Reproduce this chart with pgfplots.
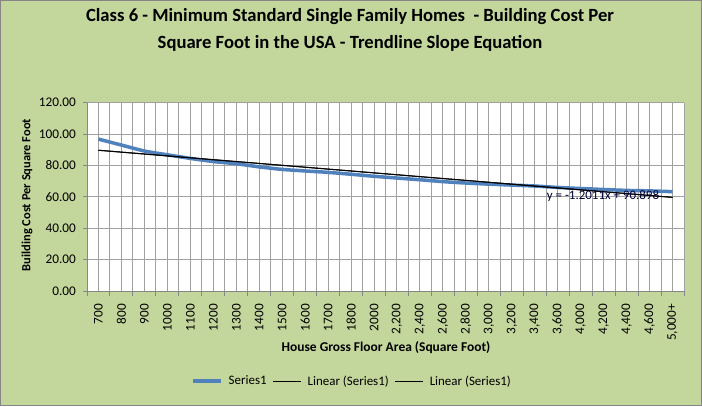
\documentclass[border=0pt]{standalone}
\usepackage{pgfplots}
\pgfplotsset{compat=1.18}
\usepackage{fontspec}
\setmainfont{Carlito}
\definecolor{bggreen}{RGB}{195,214,155}
\definecolor{serblue}{RGB}{79,129,189}
\definecolor{gridgray}{RGB}{160,160,160}
\definecolor{axgray}{RGB}{134,134,134}
\begin{document}
\begin{tikzpicture}[x=1bp,y=1bp]
\fill[bggreen] (0,0) rectangle (702,406);
\draw[axgray,line width=1bp] (0.5,0.5) rectangle (701.5,405.5);
\useasboundingbox (0,0) rectangle (702,406);
\node[font=\fontsize{18.7}{27}\selectfont\bfseries,align=center] at (350,376)
  {Class 6 - Minimum Standard Single Family Homes\ \ - Building Cost Per\\Square Foot in the USA - Trendline Slope Equation};
\node[font=\fontsize{12.5}{14}\selectfont\bfseries,rotate=90] at (27,211) {Building Cost Per Square Foot};
\node[font=\fontsize{13.5}{15}\selectfont\bfseries] at (386,58) {House Gross Floor Area (Square Foot)};
\begin{axis}[
  at={(87bp,115bp)}, anchor=south west,
  scale only axis, width=597bp, height=188.3bp,
  xmin=0.5, xmax=26.5, ymin=0, ymax=120,
  axis background/.style={fill=white},
  axis x line*=bottom, axis y line*=left,
  axis line style={axgray,line width=1bp},
  xtick={1,...,26},
  xticklabels={700,800,900,1000,1100,1200,1300,1400,1500,1600,1700,1800,2000,{2,200},{2,400},{2,600},{2,800},{3,000},{3,200},{3,400},{3,600},{4,000},{4,200},{4,400},{4,600},{5,000+}},
  minor xtick={0.5,1.5,...,26.5},
  ytick={0,20,...,120},
  xmajorgrids, xminorgrids, ymajorgrids,
  major grid style={gridgray,line width=1bp},
  minor grid style={gridgray,line width=1bp},
  tick align=outside,
  major x tick style={draw=none},
  minor x tick style={axgray,line width=1bp},
  major y tick style={axgray,line width=1bp},
  major tick length=4bp, minor tick length=5bp,
  tick label style={font=\fontsize{13.3}{15}\selectfont, text=black},
  xticklabel style={rotate=90, anchor=east, inner sep=0pt},
  xticklabel shift=9bp,
  yticklabel style={anchor=east, inner sep=0pt},
  yticklabel shift=7bp,
  /pgf/number format/assume math mode=true,
  yticklabel={\pgfmathprintnumber[fixed,fixed zerofill,precision=2]{\tick}},
  legend columns=3,
  legend style={at={(0.444,-0.478)}, anchor=center, draw=none, fill=none,
    font=\fontsize{13}{15}\selectfont, column sep=4bp, inner sep=0pt},
  legend image code/.code={\draw[#1] (0bp,0bp) -- (28bp,0bp);},
  clip=false,
]
\addplot[serblue, line width=3.5bp, smooth, tension=0.4, line join=round] coordinates {
(1,96.8) (2,93.0) (3,89.2) (4,86.8) (5,84.5) (6,82.5) (7,81.1) (8,79.1) (9,77.5) (10,76.5)
(11,75.6) (12,74.4) (13,73.1) (14,72.0) (15,70.9) (16,69.7) (17,68.8) (18,68.1) (19,67.5) (20,66.9)
(21,66.0) (22,65.3) (23,64.7) (24,64.1) (25,63.8) (26,63.3)};
\addlegendentry{Series1}
\addplot[black, line width=1bp] coordinates {(1,89.697) (26,59.669)};
\addlegendentry{Linear (Series1)}
\addplot[black, line width=1bp] coordinates {(1,89.697) (26,59.669)};
\addlegendentry{Linear (Series1)}
\node[font=\fontsize{13}{15}\selectfont, text=black!80!blue] at (axis cs:22.97,60.2) {y = -1.2011x + 90.898};
\end{axis}
\end{tikzpicture}
\end{document}
